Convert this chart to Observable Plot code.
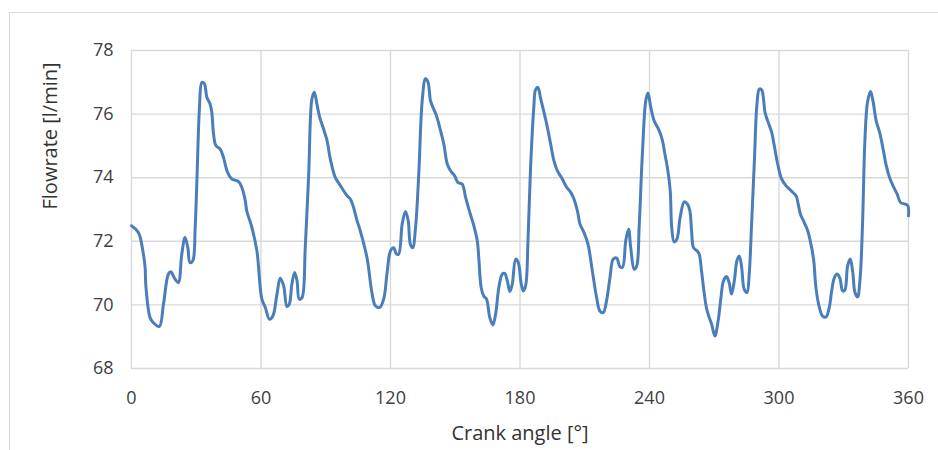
<!DOCTYPE html>
<html>
<head>
<meta charset="utf-8">
<script src="https://cdn.jsdelivr.net/npm/d3@7"></script>
<script src="https://cdn.jsdelivr.net/npm/@observablehq/plot@0.6"></script>
<style>
  html, body { margin: 0; padding: 0; background: #ffffff; }
  #wrap { position: relative; width: 938px; height: 450px; overflow: hidden; background: #fff; }
  #frame { position: absolute; left: 9px; top: 12px; width: 1000px; height: 1000px; border: 1.5px solid #d9d9d9; box-sizing: border-box; }
  #chart { position: absolute; left: 0; top: 0; }
</style>
</head>
<body>
<div id="wrap"><div id="frame"></div><div id="chart"></div></div>
<script>
const crankAngle = [
  0, 3.2, 5.5, 6.3, 6.7, 8.6, 10.1, 12.9, 14.8, 17.1, 18.2, 20.2, 21.7, 23.3, 24.8, 26.1, 27.1, 28.4, 29.5, 30.3,
  31.5, 32.6, 33.8, 34.9, 36.4, 37.2, 38.0, 39.1, 41.1, 42.6, 44.5, 46.5, 49.6, 51.1, 52.7, 53.4, 55.8, 58.1, 60.4, 62.0,
  63.9, 65.5, 67.4, 68.9, 70.5, 72.0, 73.1, 74.3, 75.6, 76.7, 77.7, 79.0, 80.5, 82.1, 83.6, 84.7, 85.9, 87.2, 89.0, 90.6,
  92.1, 94.4, 96.8, 99.9, 101.4, 102.9, 104.5, 106.0, 109.1, 111.5, 113.0, 115.0, 116.9, 118.4, 120.0, 121.5, 122.7, 123.8, 125.4, 126.9,
  128.2, 129.2, 130.3, 131.6, 133.1, 134.7, 136.2, 137.4, 138.5, 140.0, 141.3, 143.2, 144.7, 146.3, 147.8, 149.7, 151.2, 153.2, 154.8, 156.3,
  158.6, 160.2, 160.9, 162.0, 163.2, 164.5, 166.0, 167.4, 168.7, 170.2, 171.8, 172.9, 174.1, 175.3, 176.4, 178.0, 179.2, 180.6, 181.5, 182.6,
  183.7, 184.9, 186.4, 187.2, 188.3, 189.6, 191.1, 192.7, 194.2, 195.7, 197.3, 199.6, 201.6, 203.5, 205.0, 206.6, 207.8, 209.6, 211.5, 213.5,
  215.5, 217.0, 218.6, 220.1, 221.7, 223.2, 224.8, 226.3, 227.5, 229.0, 230.3, 231.3, 232.9, 234.1, 235.2, 236.7, 238.3, 239.3, 240.6, 242.1,
  244.5, 246.0, 247.1, 248.4, 249.6, 250.3, 251.4, 252.7, 254.2, 256.1, 257.6, 258.7, 259.5, 260.4, 262.0, 263.0, 264.1, 265.4, 266.5, 267.7,
  268.8, 270.3, 271.8, 273.1, 274.3, 275.7, 276.9, 278.0, 279.3, 280.5, 281.6, 282.7, 283.9, 285.2, 286.2, 287.3, 288.6, 289.8, 290.9, 292.0,
  292.9, 293.5, 295.0, 296.6, 297.8, 299.4, 301.2, 303.2, 305.6, 307.9, 308.9, 309.9, 311.7, 313.3, 314.8, 316.1, 317.1, 318.7, 320.2, 321.8,
  323.3, 324.4, 325.6, 326.9, 328.2, 329.5, 330.5, 331.8, 333.0, 334.1, 335.2, 336.4, 337.6, 338.7, 339.8, 341.0, 342.4, 343.5, 345.0, 346.6,
  348.1, 349.7, 351.2, 352.8, 354.7, 356.3, 358.4, 359.7, 360
];
const flowrate = [
  72.49, 72.28, 71.6, 71.18, 70.55, 69.6, 69.44, 69.32, 70.02, 70.97, 71.04, 70.81, 70.7, 71.6, 72.12, 71.8, 71.33, 71.39, 72.43, 73.9,
  76.21, 77.0, 76.95, 76.53, 76.32, 76.06, 75.38, 75.01, 74.9, 74.64, 74.17, 73.96, 73.88, 73.7, 73.28, 72.96, 72.43, 71.7, 70.18, 69.92,
  69.55, 69.65, 70.34, 70.84, 70.6, 69.95, 70.02, 70.65, 71.02, 70.76, 70.18, 70.23, 71.8, 74.12, 76.48, 76.69, 76.32, 75.9, 75.53, 75.17,
  74.59, 74.01, 73.75, 73.43, 73.33, 73.06, 72.65, 72.33, 71.49, 70.34, 69.97, 69.92, 70.2, 71.0, 71.7, 71.8, 71.6, 71.6, 72.54, 72.94,
  72.65, 71.91, 71.8, 72.43, 74.12, 76.43, 77.11, 77.0, 76.43, 76.16, 75.95, 75.48, 75.06, 74.43, 74.22, 74.06, 73.85, 73.8, 73.38, 73.01,
  72.49, 72.02, 71.49, 70.55, 70.28, 70.18, 69.6, 69.37, 69.71, 70.55, 70.97, 70.99, 70.76, 70.42, 70.65, 71.44, 71.33, 70.65, 70.44, 70.6,
  72.02, 74.32, 76.21, 76.76, 76.84, 76.48, 76.06, 75.58, 75.06, 74.54, 74.22, 73.96, 73.7, 73.54, 73.33, 72.96, 72.54, 72.28, 71.91, 71.07,
  70.23, 69.81, 69.76, 70.13, 70.86, 71.44, 71.47, 71.2, 71.18, 72.02, 72.38, 71.8, 71.12, 71.23, 72.43, 74.75, 76.43, 76.66, 76.21, 75.8,
  75.48, 75.17, 74.75, 74.27, 73.59, 72.43, 71.98, 72.07, 72.75, 73.24, 73.17, 72.96, 72.33, 71.8, 71.7, 71.6, 71.07, 70.34, 69.87, 69.6,
  69.39, 69.02, 69.5, 70.23, 70.76, 70.89, 70.7, 70.34, 70.76, 71.39, 71.54, 71.18, 70.49, 70.39, 70.97, 72.54, 74.54, 76.32, 76.79, 76.76,
  76.43, 76.06, 75.74, 75.43, 75.01, 74.43, 73.96, 73.75, 73.59, 73.43, 73.17, 72.86, 72.59, 72.33, 71.91, 71.39, 70.55, 69.92, 69.65, 69.62,
  69.92, 70.44, 70.84, 70.97, 70.84, 70.44, 70.46, 71.23, 71.44, 71.07, 70.39, 70.25, 70.86, 72.54, 75.17, 76.37, 76.71, 76.43, 75.8, 75.43,
  74.95, 74.38, 74.01, 73.75, 73.49, 73.22, 73.17, 73.12, 72.8
];
const xTicks = [0, 60, 120, 180, 240, 300, 360];
const yTicks = [68, 70, 72, 74, 76, 78];
const xTitle = "Crank angle [°]";
const yTitle = "Flowrate [l/min]";

const data = crankAngle.map((a, i) => ({angle: a, flow: flowrate[i]}));

const grid = "#d9d9d9";
const tickColor = "#404040";
const titleColor = "#333333";

const chart = Plot.plot({
  width: 938,
  height: 450,
  marginLeft: 131,
  marginRight: 30,
  marginTop: 50,
  marginBottom: 82,
  style: {fontFamily: "'Open Sans', sans-serif", fontSize: "18px", color: tickColor, background: "transparent", overflow: "visible"},
  x: {domain: [0, 360]},
  y: {domain: [68, 78]},
  marks: [
    Plot.gridX(xTicks, {stroke: grid, strokeOpacity: 1, strokeWidth: 1.4}),
    Plot.gridY(yTicks, {stroke: grid, strokeOpacity: 1, strokeWidth: 1.4}),
    Plot.axisX(xTicks, {tickSize: 0, tickPadding: 23, label: null, fontSize: 18, fill: tickColor}),
    Plot.axisY(yTicks, {tickSize: 0, tickPadding: 18, label: null, fontSize: 18, fill: tickColor}),
    Plot.line(data, {x: "angle", y: "flow", stroke: "#4a7ebb", strokeWidth: 3, curve: "catmull-rom"}),
    Plot.text([xTitle], {frameAnchor: "bottom", dy: 65, lineAnchor: "middle", fill: titleColor, fontSize: 20}),
    Plot.text([yTitle], {frameAnchor: "left", dx: -81, rotate: -90, lineAnchor: "middle", fill: titleColor, fontSize: 20})
  ]
});
document.getElementById("chart").appendChild(chart);
</script>
</body>
</html>
